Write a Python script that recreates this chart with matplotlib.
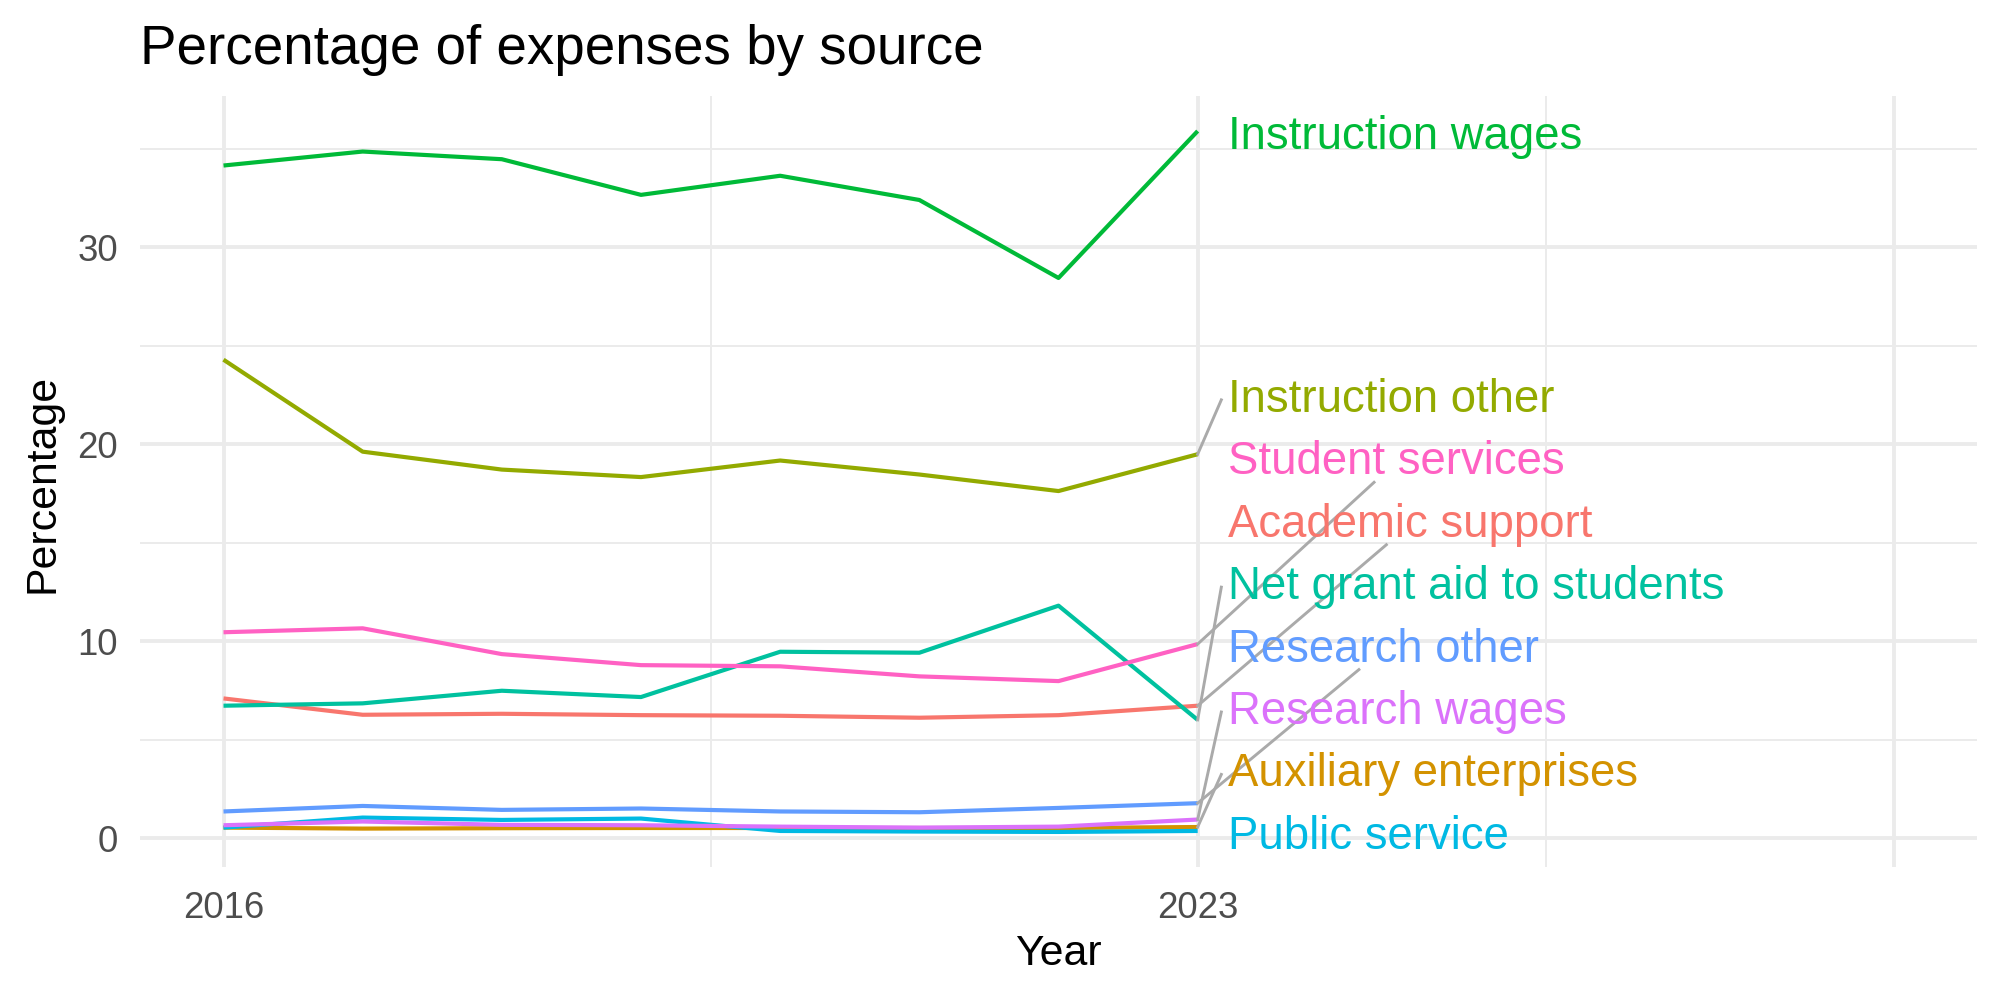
import matplotlib.pyplot as plt
import numpy as np

plt.rcParams['font.family'] = ['Liberation Sans', 'DejaVu Sans']

# data
years = np.arange(2016, 2024)
academic_support = [7.10, 6.27, 6.32, 6.25, 6.22, 6.12, 6.25, 6.73]
auxiliary_enterprises = [0.54, 0.49, 0.51, 0.52, 0.52, 0.52, 0.52, 0.57]
instruction_other = [24.3, 19.63, 18.72, 18.34, 19.18, 18.47, 17.63, 19.5]
instruction_wages = [34.16, 34.87, 34.48, 32.67, 33.64, 32.41, 28.45, 35.91]
net_grant_aid = [6.73, 6.85, 7.49, 7.17, 9.47, 9.42, 11.81, 6.01]
public_service = [0.54, 1.05, 0.93, 1.0, 0.37, 0.34, 0.32, 0.37]
research_other = [1.36, 1.64, 1.44, 1.51, 1.36, 1.32, 1.54, 1.78]
research_wages = [0.66, 0.85, 0.68, 0.66, 0.59, 0.54, 0.59, 0.95]
student_services = [10.46, 10.66, 9.35, 8.79, 8.73, 8.22, 7.98, 9.86]

names = ['Academic support', 'Auxiliary enterprises', 'Instruction other',
         'Instruction wages', 'Net grant aid to students', 'Public service',
         'Research other', 'Research wages', 'Student services']
series = [academic_support, auxiliary_enterprises, instruction_other,
          instruction_wages, net_grant_aid, public_service,
          research_other, research_wages, student_services]
colors = ['#F8766D', '#D39200', '#93AA00', '#00BA38', '#00C19F',
          '#00B9E3', '#619CFF', '#DB72FB', '#FF61C3']

fig = plt.figure(figsize=(10, 5), dpi=200)
ax = fig.add_axes([0.07, 0.133, 0.9185, 0.771])

for vals, c in zip(series, colors):
    ax.plot(years, vals, color=c, lw=1.5, solid_capstyle='butt', zorder=2)

ax.set_xlim(2015.4, 2028.6)
ax.set_ylim(-1.46, 37.69)
ax.set_xticks([2016, 2023, 2028], labels=['2016', '2023', ''])
ax.set_xticks([2019.5, 2025.5], minor=True)
ax.set_yticks([0, 10, 20, 30])
ax.set_yticks([5, 15, 25, 35], minor=True)
ax.grid(which='major', color='#EBEBEB', lw=1.4)
ax.grid(which='minor', color='#EBEBEB', lw=0.7)
ax.set_axisbelow(True)
for s in ax.spines.values():
    s.set_visible(False)
ax.tick_params(which='both', length=0, labelsize=13.2, labelcolor='#4D4D4D')
ax.tick_params(axis='y', pad=8)
ax.tick_params(axis='x', pad=8.5)

fig.text(0.07, 0.95, 'Percentage of expenses by source', fontsize=19.7,
         ha='left', va='center')
fig.text(0.5293, 0.046, 'Year', fontsize=15.4, ha='center', va='center')
fig.text(0.021, 0.517, 'Percentage', fontsize=15.4, rotation=90,
         ha='center', va='center')

# simple label repel: stack labels upward from the lowest end value
end_vals = [v[-1] for v in series]
order = np.argsort(end_vals)
gap = 3.17
label_y = {}
prev = None
for i in order:
    y = end_vals[i] if prev is None else max(end_vals[i], prev + gap)
    label_y[i] = y - 0.3
    prev = y

x_text = 2023.215
texts = {}
for i in range(len(names)):
    texts[i] = ax.text(x_text, label_y[i], names[i], color=colors[i],
                       fontsize=16.4, ha='left', va='center', zorder=4)

fig.canvas.draw()
r = fig.canvas.get_renderer()
inv = ax.transData.inverted()
for i in range(len(names)):
    v = end_vals[i]
    ly = label_y[i]
    d = ly - v
    if abs(d) < 0.5:
        continue
    bb = texts[i].get_window_extent(r).transformed(inv)
    if d > 7.5:
        cx = (bb.x0 + bb.x1) / 2
        by = bb.y0 + 0.1
        ex = years[-1] + (cx - years[-1]) * (by - v) / d
        ey = by
    else:
        ex = 2023.17
        ey = ly
    ax.plot([years[-1], ex], [v, ey], color='#AAAAAA', lw=1.05, zorder=3)

fig.savefig('out.png', dpi=200)
